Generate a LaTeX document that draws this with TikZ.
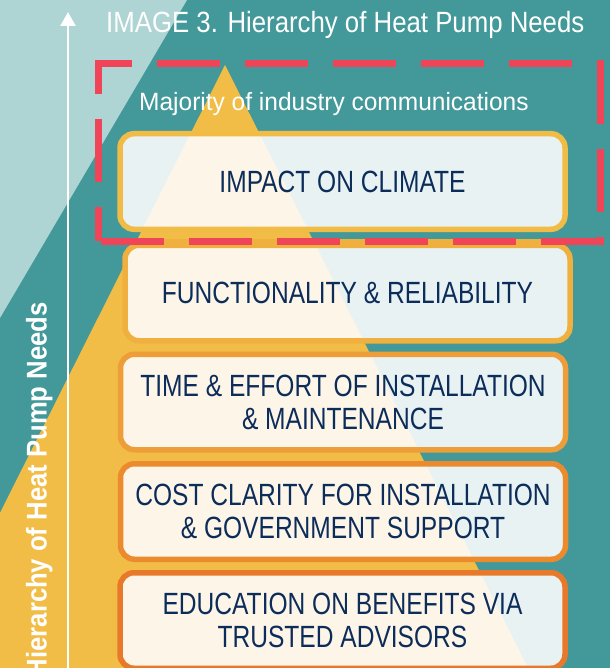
\documentclass[tikz,border=0pt]{standalone}
\usepackage{fontspec}
\usetikzlibrary{arrows.meta}
\newfontfamily\boxfont[FakeStretch=0.80]{Liberation Sans}
\newfontfamily\titlefont[FakeStretch=0.88]{Liberation Sans}
\newfontfamily\plainfont[FakeStretch=0.98]{Liberation Sans}
\newfontfamily\sidefont[FakeStretch=0.90]{Liberation Sans Bold}
\definecolor{teal}{RGB}{67,153,154}
\definecolor{lightteal}{RGB}{174,212,212}
\definecolor{pyr}{RGB}{241,189,71}
\definecolor{bordA}{RGB}{241,188,70}
\definecolor{bordB}{RGB}{240,176,64}
\definecolor{bordC}{RGB}{238,158,56}
\definecolor{bordD}{RGB}{236,138,46}
\definecolor{bordE}{RGB}{232,121,42}
\definecolor{navy}{RGB}{12,44,90}
\definecolor{dashred}{RGB}{240,68,88}
\tikzset{
  levelbox/.style={rounded corners=14pt, line width=5.5pt, fill=white, fill opacity=0.88, text opacity=1,
    minimum width=445pt, minimum height=95.5pt, inner sep=0pt, align=center, text=navy,
    font={\boxfont\fontsize{30.7}{33}\selectfont}},
  redframe/.style={draw=dashred, line width=7pt, dash pattern=on 63pt off 25pt}
}
\begin{document}
\begin{tikzpicture}[x=1pt,y=-1pt]
\useasboundingbox (0,0) rectangle (610,668);
\clip (0,0) rectangle (610,668);
% backgrounds
\fill[teal] (0,0) rectangle (610,668);
\fill[lightteal] (0,0) -- (187,0) -- (0,318) -- cycle;
\fill[pyr] (225,65) -- (528,668) -- (-78,668) -- cycle;
% arrow
\coordinate (arrowbase) at (68,670);
\coordinate (arrowtip) at (68,12);
\draw[white, line width=2.5pt, -{Triangle[length=14pt,width=15pt]}] (arrowbase) -- (arrowtip);
% side label
\node[text=white, font={\sidefont\fontsize{28.5}{30}\selectfont}, rotate=90, anchor=base east, inner sep=0pt] (side) at (46.5,302) {Hierarchy of Heat Pump Needs};
% title
\node[text=white, font={\titlefont\fontsize{29.3}{32}\selectfont}, anchor=base west, inner sep=0pt] (title) at (106,33) {IMAGE 3. Hierarchy of Heat Pump Needs};
\node[text=white, font={\plainfont\fontsize{25}{28}\selectfont}, anchor=base west, inner sep=0pt] (major) at (139,111) {Majority of industry communications};
% strip
\fill[bordB] (130,239) rectangle (565,246);
% boxes
\node[levelbox, draw=bordA] (b1) at (342.5,181.5) {IMPACT ON CLIMATE};
\node[levelbox, draw=bordB] (b2) at (347.5,293) {FUNCTIONALITY \& RELIABILITY};
\node[levelbox, draw=bordC] (b3) at (343,402) {TIME \& EFFORT OF INSTALLATION\\ \& MAINTENANCE};
\node[levelbox, draw=bordD] (b4) at (343,511.5) {COST CLARITY FOR INSTALLATION\\ \& GOVERNMENT SUPPORT};
\node[levelbox, draw=bordE] (b5) at (342.5,620.5) {EDUCATION ON BENEFITS VIA\\ TRUSTED ADVISORS};
% red dashed frame
\coordinate (fA) at (98,93);
\coordinate (fB) at (98,64);
\coordinate (fC) at (600,64);
\coordinate (fD) at (600,241);
\coordinate (fE) at (98,241);
\draw[redframe] (fA) -- (fB) -- (fC) -- (fD) -- (fE);
\draw[redframe, dash phase=29pt] (fE) -- (fA);
\end{tikzpicture}
\end{document}
